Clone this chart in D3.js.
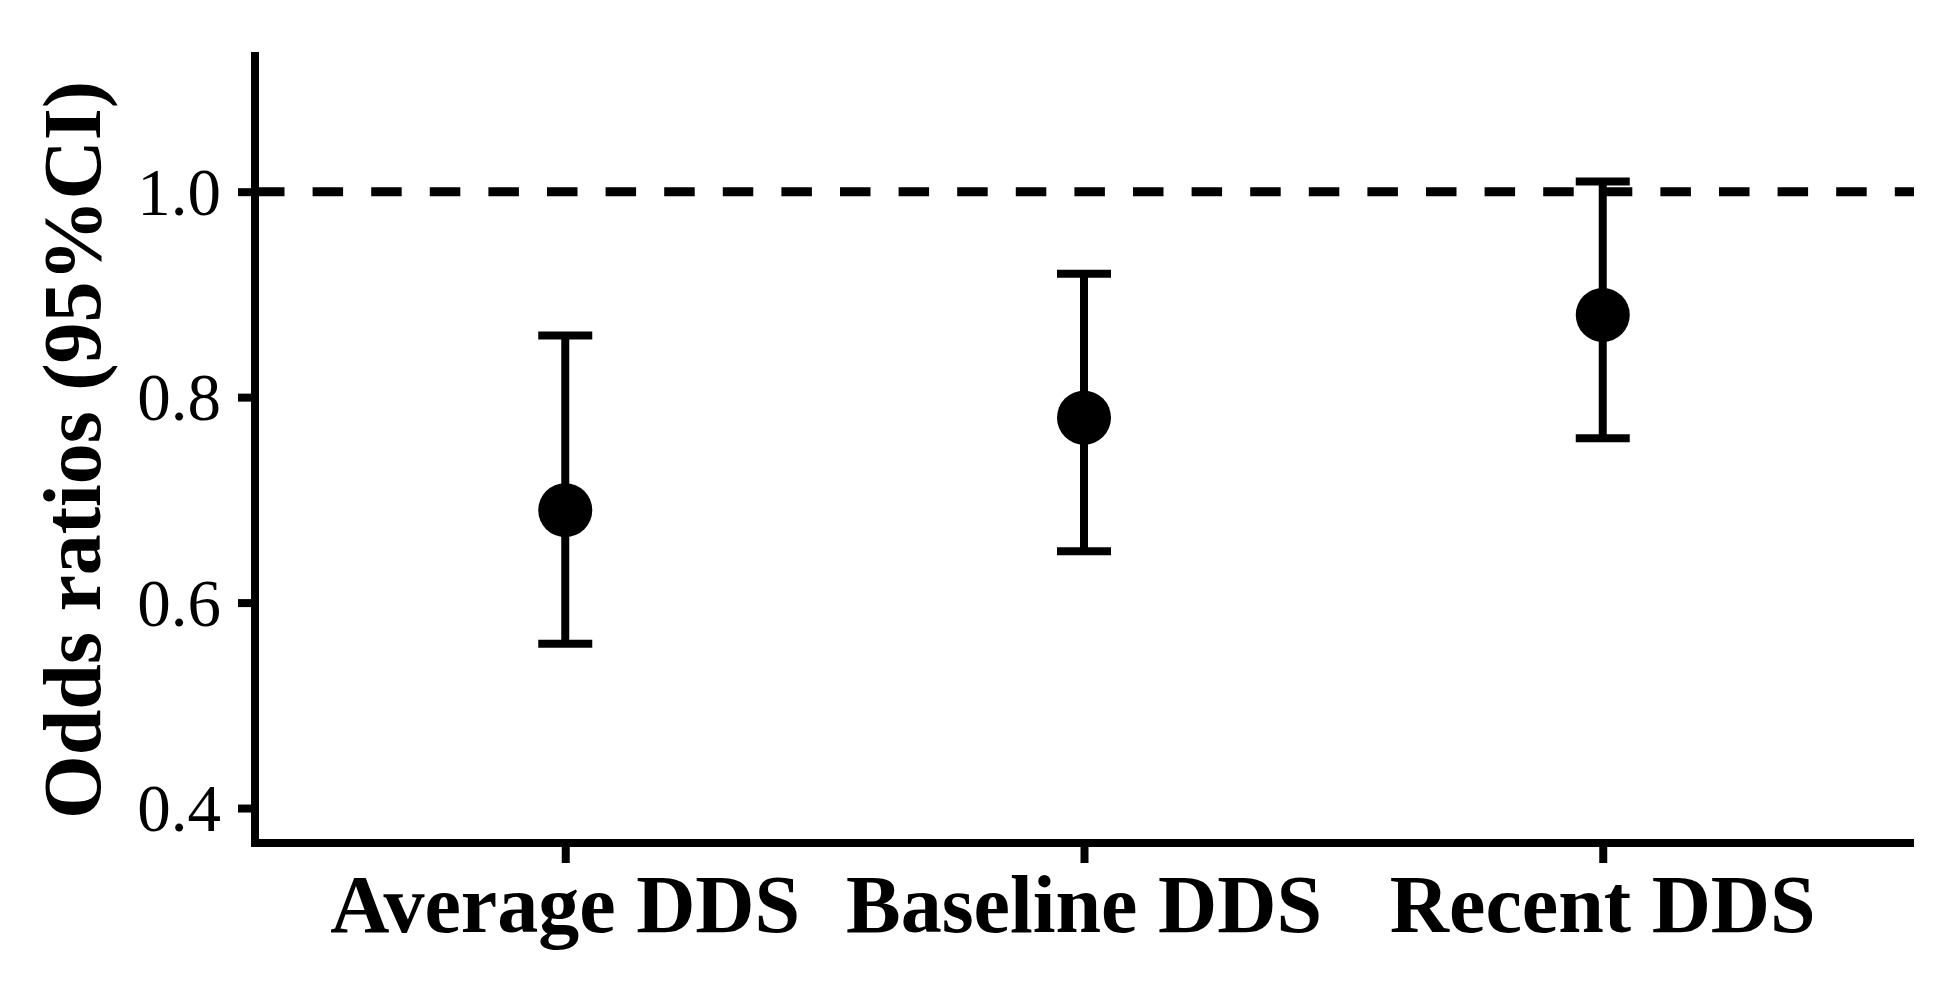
<!DOCTYPE html>
<html>
<head>
<meta charset="utf-8">
<script src="https://cdn.jsdelivr.net/npm/d3@7"></script>
<style>
  html, body { margin: 0; padding: 0; background: #fff; }
  svg { display: block; }
</style>
</head>
<body>
<script>
const categories = ["Average DDS", "Baseline DDS", "Recent DDS"];
const oddsRatio = [0.69, 0.78, 0.88];
const ciLower = [0.56, 0.65, 0.76];
const ciUpper = [0.86, 0.92, 1.01];
const yTicks = [0.4, 0.6, 0.8, 1.0];
const yDomain = [0.365, 1.135];
const refLine = 1.0;
const yTitle = "Odds ratios (95%CI)";

const W = 1958, H = 989;
const plot = { left: 254, right: 1914, top: 53, bottom: 844 };
const lw = 8;

const svg = d3.select("body").append("svg").attr("width", W).attr("height", H);
svg.append("rect").attr("width", W).attr("height", H).attr("fill", "#fff");

const x = d3.scalePoint().domain(categories).range([plot.left, plot.right]).padding(0.6);
const y = d3.scaleLinear().domain(yDomain).range([plot.bottom, plot.top]);

const serif = "'Liberation Serif', 'Times New Roman', serif";

// reference dashed line
svg.append("line")
  .attr("x1", plot.left).attr("x2", plot.right)
  .attr("y1", y(refLine)).attr("y2", y(refLine))
  .attr("stroke", "#000").attr("stroke-width", 9)
  .attr("stroke-dasharray", "30.5,28.1");

// Y axis
const yAxis = d3.axisLeft(y).tickValues(yTicks).tickFormat(d3.format(".1f")).tickSize(17).tickPadding(17);
const gy = svg.append("g").attr("transform", `translate(${plot.left + 1},0)`).call(yAxis);
gy.select(".domain").remove();
gy.selectAll(".tick line").attr("stroke", "#000").attr("stroke-width", lw);
gy.selectAll(".tick text").attr("font-family", serif).attr("font-size", 67).attr("fill", "#000").attr("dy", "0.34em");
svg.append("line").attr("x1", plot.left + 1).attr("x2", plot.left + 1)
  .attr("y1", plot.top - 1).attr("y2", plot.bottom + 3)
  .attr("stroke", "#000").attr("stroke-width", lw);

// X axis
const xAxis = d3.axisBottom(x).tickSize(16).tickPadding(16);
const gx = svg.append("g").attr("transform", `translate(0,${plot.bottom + 3})`).call(xAxis);
gx.select(".domain").remove();
gx.selectAll(".tick line").attr("stroke", "#000").attr("stroke-width", lw);
gx.selectAll(".tick text").remove();
svg.append("line").attr("x1", plot.left - 3).attr("x2", plot.right)
  .attr("y1", plot.bottom - 1).attr("y2", plot.bottom - 1)
  .attr("stroke", "#000").attr("stroke-width", lw);

svg.append("g").selectAll("text").data(categories).join("text")
  .attr("x", d => x(d)).attr("y", 932)
  .attr("text-anchor", "middle")
  .attr("font-family", serif).attr("font-weight", "bold").attr("font-size", 82)
  .attr("fill", "#000").text(d => d);

// Y title
svg.append("text")
  .attr("transform", `translate(100,450) rotate(-90)`)
  .attr("text-anchor", "middle")
  .attr("font-family", serif).attr("font-weight", "bold").attr("font-size", 82)
  .attr("fill", "#000").text(yTitle);

// error bars
const capW = 54;
const eb = svg.append("g").selectAll("g").data(categories).join("g");
eb.append("line")
  .attr("x1", d => x(d)).attr("x2", d => x(d))
  .attr("y1", (d, i) => y(ciLower[i])).attr("y2", (d, i) => y(ciUpper[i]))
  .attr("stroke", "#000").attr("stroke-width", lw);
eb.append("line")
  .attr("x1", d => x(d) - capW / 2).attr("x2", d => x(d) + capW / 2)
  .attr("y1", (d, i) => y(ciLower[i])).attr("y2", (d, i) => y(ciLower[i]))
  .attr("stroke", "#000").attr("stroke-width", lw);
eb.append("line")
  .attr("x1", d => x(d) - capW / 2).attr("x2", d => x(d) + capW / 2)
  .attr("y1", (d, i) => y(ciUpper[i])).attr("y2", (d, i) => y(ciUpper[i]))
  .attr("stroke", "#000").attr("stroke-width", lw);
eb.append("circle")
  .attr("cx", d => x(d)).attr("cy", (d, i) => y(oddsRatio[i]))
  .attr("r", 27).attr("fill", "#000");
</script>
</body>
</html>
